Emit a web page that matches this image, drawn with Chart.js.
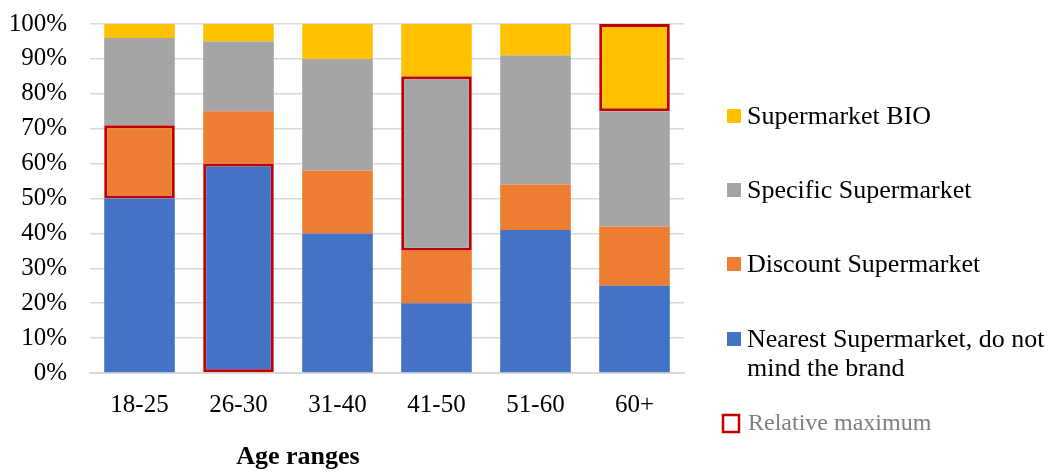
<!DOCTYPE html>
<html>
<head>
<meta charset="utf-8">
<script src="https://cdn.jsdelivr.net/npm/chart.js@4.4.0/dist/chart.umd.min.js"></script>
<style>
  html, body { margin: 0; padding: 0; background: #fff; }
  #wrap { width: 1053px; height: 472px; position: relative; }
</style>
</head>
<body>
<div id="wrap"><canvas id="chart"></canvas></div>
<script>
// share of respondents (%) per age range
const ageRanges = ['18-25', '26-30', '31-40', '41-50', '51-60', '60+'];
const nearest  = [50, 60, 40, 20, 41, 25];
const discount = [21, 15, 18, 15, 13, 17];
const specific = [25, 20, 32, 50, 37, 33];
const bio      = [4, 5, 10, 15, 9, 25];

const seriesNames = [
  'Nearest Supermarket, do not\nmind the brand',
  'Discount Supermarket',
  'Specific Supermarket',
  'Supermarket BIO'
];
const seriesColors = ['#4472C4', '#ED7D31', '#A5A5A5', '#FFC000'];
const peakColor = '#C00000';
const serif = '"Liberation Serif", "Times New Roman", serif';

// outline the age range where each choice reaches its maximum
function argMax(arr) {
  return arr.indexOf(Math.max(...arr));
}

function makeSet(i, values) {
  const peak = argMax(values);
  return {
    label: seriesNames[i],
    data: values,
    backgroundColor: seriesColors[i],
    borderColor: values.map((v, k) => k === peak ? peakColor : 'rgba(0,0,0,0)'),
    borderWidth: values.map((v, k) => k === peak ? 3 : 0),
    borderSkipped: false,
    categoryPercentage: 1,
    barPercentage: 0.713
  };
}

// legend on the right plus the axis title, drawn by hand
const sideLegend = {
  id: 'sideLegend',
  afterDraw(chart) {
    const ctx = chart.ctx;
    const rows = [116, 190, 264, 339];
    ctx.save();
    ctx.textBaseline = 'middle';
    ctx.textAlign = 'left';
    ctx.font = '26px ' + serif;
    const sets = chart.data.datasets;
    for (let r = 0; r < sets.length; r++) {
      const ds = sets[sets.length - 1 - r];
      const y = rows[r];
      ctx.fillStyle = ds.backgroundColor;
      ctx.fillRect(727, y - 7, 14, 14);
      ctx.fillStyle = '#000';
      ds.label.split('\n').forEach((line, j) => {
        ctx.fillText(line, 747, y + 1 + j * 29);
      });
    }
    // relative maximum key
    ctx.strokeStyle = peakColor;
    ctx.lineWidth = 2.5;
    ctx.strokeRect(723, 415, 16, 17);
    ctx.fillStyle = '#7F7F7F';
    ctx.font = '24px ' + serif;
    ctx.fillText('Relative maximum', 748, 424);

    ctx.fillStyle = '#000';
    ctx.textAlign = 'center';
    ctx.font = 'bold 26px ' + serif;
    ctx.fillText('Age ranges', 298, 457);
    ctx.restore();
  }
};

Chart.defaults.font.family = serif;
Chart.defaults.color = '#000';

new Chart(document.getElementById('chart'), {
  type: 'bar',
  data: {
    labels: ageRanges,
    datasets: [
      makeSet(0, nearest),
      makeSet(1, discount),
      makeSet(2, specific),
      makeSet(3, bio)
    ]
  },
  options: {
    responsive: true,
    maintainAspectRatio: false,
    animation: false,
    layout: { padding: { top: 24, right: 369, bottom: 0, left: 0 } },
    plugins: {
      legend: { display: false },
      tooltip: { enabled: false }
    },
    scales: {
      x: {
        stacked: true,
        grid: { display: false },
        border: { display: true, color: '#D9D9D9', width: 2 },
        ticks: { font: { size: 25 }, padding: 9, color: '#000' },
        afterFit(scale) { scale.height = 99; }
      },
      y: {
        stacked: true,
        min: 0,
        max: 100,
        // invisible tick marks keep the labels clear of the plot
        grid: {
          color: '#D9D9D9',
          lineWidth: 1.5,
          drawTicks: true,
          tickLength: 23,
          tickColor: 'rgba(0,0,0,0)'
        },
        border: { display: false },
        ticks: {
          stepSize: 10,
          font: { size: 25 },
          padding: 0,
          color: '#000',
          callback: v => v + '%'
        },
        afterFit(scale) { scale.width = 90; }
      }
    }
  },
  plugins: [sideLegend]
});
</script>
</body>
</html>
